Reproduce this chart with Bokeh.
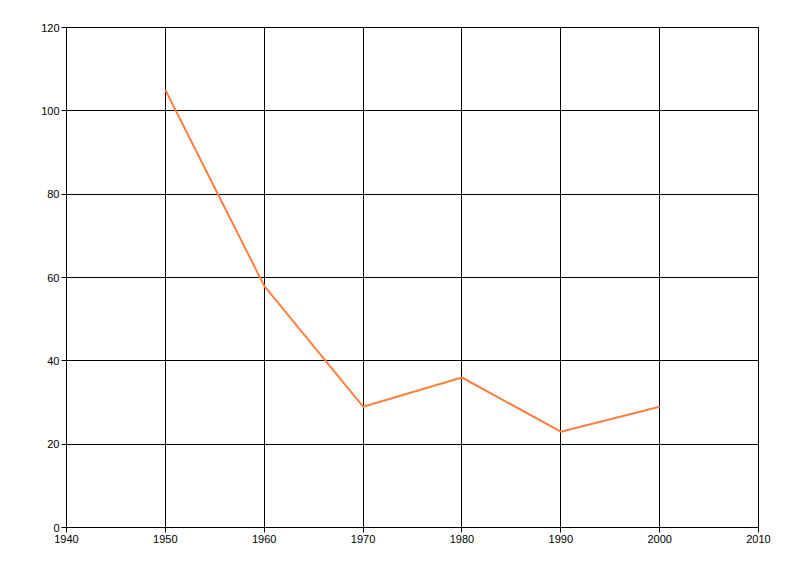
from bokeh.plotting import figure
from bokeh.models import Range1d, FixedTicker
from bokeh.embed import file_html
from bokeh.resources import INLINE

years = [1950, 1960, 1970, 1980, 1990, 2000]
values = [105, 58, 29, 36, 23, 29]
x_ticks = [1940, 1950, 1960, 1970, 1980, 1990, 2000, 2010]
y_ticks = [0, 20, 40, 60, 80, 100, 120]

p = figure(width=792, height=568, output_backend="svg", toolbar_location=None,
           x_range=Range1d(1940, 2010), y_range=Range1d(0, 120),
           min_border_left=66, min_border_right=34, min_border_top=27, min_border_bottom=41)
p.line(years, values, line_color="#FF7F3F", line_width=2)

p.xaxis.ticker = FixedTicker(ticks=x_ticks)
p.yaxis.ticker = FixedTicker(ticks=y_ticks)
p.xgrid.ticker = FixedTicker(ticks=x_ticks)
p.ygrid.ticker = FixedTicker(ticks=y_ticks)
for g in (p.xgrid, p.ygrid):
    g.grid_line_color = "black"
    g.grid_line_width = 1
    g.grid_line_alpha = 1
for ax in (p.xaxis, p.yaxis):
    ax.axis_line_color = "black"
    ax.major_tick_line_color = "black"
    ax.major_tick_in = 0
    ax.major_tick_out = 5
    ax.minor_tick_line_color = None
    ax.major_label_text_font = "Liberation Sans"
    ax.major_label_text_font_size = "11px"
    ax.major_label_text_color = "black"
    ax.major_label_standoff = 2
p.outline_line_color = "black"
p.outline_line_alpha = 1

open("out.html", "w").write(file_html(p, INLINE))
